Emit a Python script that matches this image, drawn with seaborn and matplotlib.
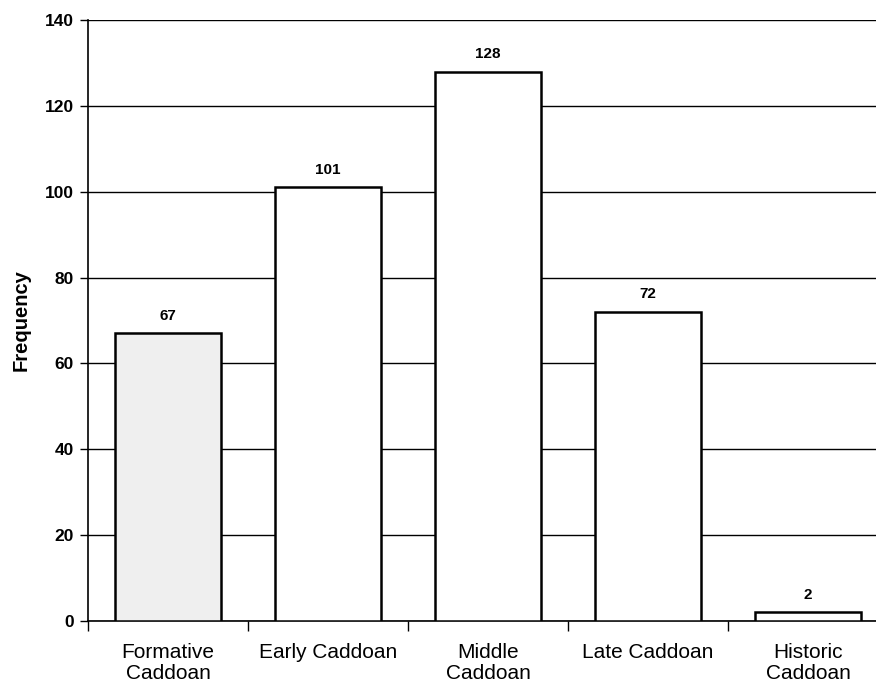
import matplotlib
matplotlib.use("Agg")
import matplotlib.pyplot as plt
import seaborn as sns
import pandas as pd

periods = ["Formative\nCaddoan", "Early Caddoan", "Middle\nCaddoan", "Late Caddoan", "Historic\nCaddoan"]
frequency = [67, 101, 128, 72, 2]
y_ticks = [0, 20, 40, 60, 80, 100, 120, 140]

sns.set_theme(style="white")
plt.rcParams["font.family"] = ["Liberation Sans", "DejaVu Sans"]
plt.rcParams.update({
    "text.color": "black",
    "axes.labelcolor": "black",
    "xtick.color": "black",
    "ytick.color": "black",
})

df = pd.DataFrame({"period": periods, "frequency": frequency})

fig = plt.figure(figsize=(8.76, 6.88), dpi=100)
# axes run slightly past the right edge of the figure, as in the printed page
ax = fig.add_axes([88 / 876, 67 / 688, 800 / 876, 601 / 688])

sns.barplot(data=df, x="period", y="frequency", ax=ax, color="white",
            width=0.665, edgecolor="black", linewidth=1.8, zorder=3)

fills = ["#efefef", "white", "white", "white", "white"]
for patch, fc in zip(ax.patches, fills):
    patch.set_facecolor(fc)

for i, v in enumerate(frequency):
    ax.text(i, v + 2.5, str(v), ha="center", va="bottom",
            fontsize=11, fontweight="bold", color="black")

ax.set_ylim(0, 140)
ax.set_xlim(-0.5, 4.5)
ax.set_yticks(y_ticks)
ax.set_yticklabels([str(t) for t in y_ticks], fontsize=12.5, fontweight="bold")
ax.yaxis.grid(True, color="black", linewidth=1.0, zorder=0)
ax.set_axisbelow(True)

# category labels centred under bars, tick marks at category boundaries
ax.set_xticks(range(len(periods)))
ax.set_xticklabels(periods, fontsize=15, linespacing=1.15)
ax.tick_params(axis="x", which="major", bottom=True, length=0, pad=16)
ax.set_xticks([i - 0.5 for i in range(len(periods) + 1)], minor=True)
ax.tick_params(axis="x", which="minor", bottom=True, length=7, width=1.0,
               color="black", direction="out")
ax.tick_params(axis="y", which="major", left=True, length=6, width=1.0,
               color="black", direction="out", pad=4)

ax.set_xlabel("")
ax.set_ylabel("Frequency", fontsize=14.5, fontweight="bold", labelpad=10)

for side in ["top", "right"]:
    ax.spines[side].set_visible(False)
for side in ["left", "bottom"]:
    ax.spines[side].set_color("black")
    ax.spines[side].set_linewidth(1.2)

fig.savefig("out.png", dpi=100)
